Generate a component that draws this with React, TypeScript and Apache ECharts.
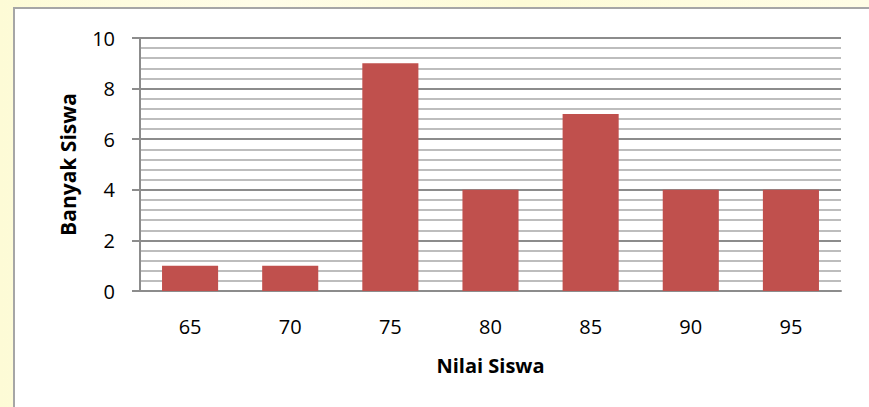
import React, { useEffect, useRef } from "react";
import * as echarts from "echarts";

const categories = ["65", "70", "75", "80", "85", "90", "95"];
const values = [1, 1, 9, 4, 7, 4, 4];
const xTitle = "Nilai Siswa";
const yTitle = "Banyak Siswa";

export default function App() {
  const ref = useRef<HTMLDivElement>(null);
  useEffect(() => {
    document.body.style.margin = "0";
    document.body.style.overflow = "hidden";
    document.documentElement.style.overflow = "hidden";
    if (!ref.current) return;
    const chart = echarts.init(ref.current, null, { renderer: "svg" });
    const font = "'Open Sans', sans-serif";
    chart.setOption({
      animation: false,
      backgroundColor: "transparent",
      grid: { left: 140, right: 28, top: 38, bottom: 116 },
      xAxis: {
        type: "category",
        data: categories,
        name: xTitle,
        nameLocation: "middle",
        nameGap: 64,
        nameTextStyle: { fontFamily: font, fontWeight: "bold", fontSize: 20, color: "#000" },
        axisLine: { lineStyle: { color: "#8c8c8c", width: 2 } },
        axisTick: { show: false },
        axisLabel: { fontFamily: font, fontSize: 20, color: "#000", margin: 25 },
      },
      yAxis: {
        type: "value",
        min: 0,
        max: 10,
        interval: 2,
        name: yTitle,
        nameLocation: "middle",
        nameGap: 62,
        nameTextStyle: { fontFamily: font, fontWeight: "bold", fontSize: 21, color: "#000" },
        axisLine: { show: true, lineStyle: { color: "#8c8c8c", width: 2 } },
        axisTick: { show: true, length: 8, lineStyle: { color: "#8c8c8c", width: 2 } },
        axisLabel: { fontFamily: font, fontSize: 20, color: "#000", margin: 25 },
        splitLine: { show: true, lineStyle: { color: "#8c8c8c", width: 2 } },
        minorTick: { show: false, splitNumber: 5 },
        minorSplitLine: { show: true, lineStyle: { color: "#bdbdbd", width: 2 } },
      },
      series: [
        {
          type: "bar",
          data: values,
          barWidth: "56%",
          itemStyle: { color: "#c0504d" },
        },
      ],
    });
    return () => chart.dispose();
  }, []);
  return (
    <div
      style={{
        position: "fixed",
        left: 0,
        top: 0,
        right: 0,
        bottom: 0,
        overflow: "hidden",
        background:
          "linear-gradient(90deg, #fdfbd6 0%, #fffde8 30%, #fdfbd6 60%, #fffde6 100%)",
      }}
    >
      <div
        style={{
          position: "absolute",
          left: 13,
          top: 7,
          right: -40,
          bottom: -40,
          background: "#ffffff",
          borderLeft: "2px solid #a6a6a6",
          borderTop: "2px solid #a6a6a6",
        }}
      />
      <div
        ref={ref}
        style={{ position: "absolute", left: 0, top: 0, width: 869, height: 407 }}
      />
    </div>
  );
}
